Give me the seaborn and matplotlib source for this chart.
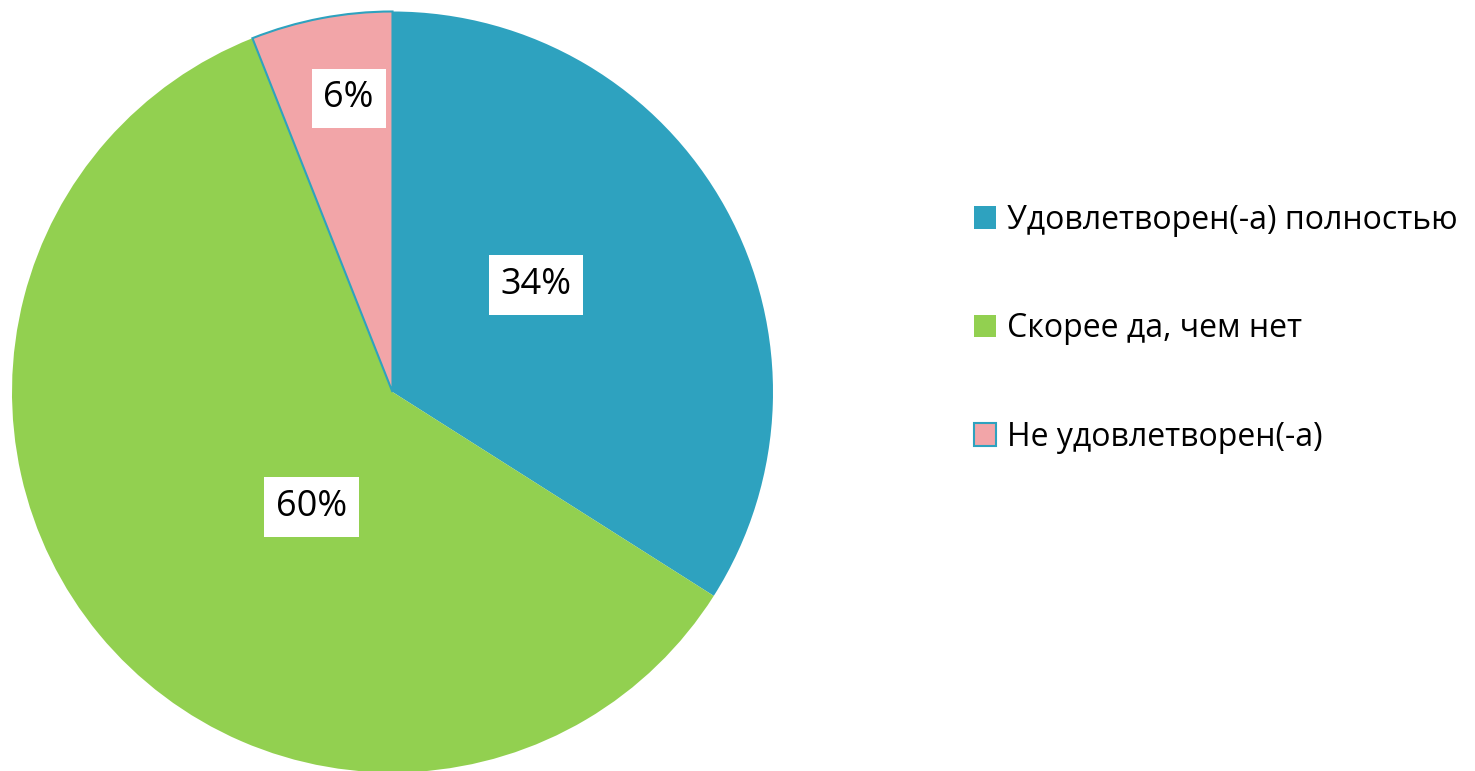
import seaborn as sns
import matplotlib.pyplot as plt
import numpy as np

categories = ["Удовлетворен(-а) полностью", "Скорее да, чем нет", "Не удовлетворен(-а)"]
shares = [34, 60, 6]
colors = ["#2EA2BF", "#92D050", "#F2A5A8"]
label_r = [0.47, 0.37, 0.78]      # radius of each percent label
label_shift = [7.8, 15.4, -2.3]   # degrees offset from slice middle

sns.set_theme(style="white")
plt.rcParams["font.family"] = ["Open Sans", "DejaVu Sans"]

W, H = 1475, 771
fig = plt.figure(figsize=(W / 100, H / 100), dpi=100)
cx, cy, r = 392.5, 771 - 392, 380.5
ax = fig.add_axes([(cx - r) / W, (cy - r) / H, 2 * r / W, 2 * r / H])

wedges, _ = ax.pie(shares, colors=colors, startangle=90, counterclock=False,
                   radius=1, wedgeprops=dict(linewidth=0))
wedges[2].set_edgecolor("#2EA2BF")
wedges[2].set_linewidth(1.5)
ax.set_xlim(-1, 1)
ax.set_ylim(-1, 1)
ax.set_aspect("equal")
ax.axis("off")

for w, val, rr, sh in zip(wedges, shares, label_r, label_shift):
    mid = np.deg2rad((w.theta1 + w.theta2) / 2 + sh)
    ax.text(rr * np.cos(mid), rr * np.sin(mid), f"{val}%", ha="center", va="center",
            fontsize=26, color="black",
            bbox=dict(boxstyle="square,pad=0.33", fc="white", ec="none"))

leg = fig.legend(wedges, categories, loc="upper left",
                 bbox_to_anchor=(961 / W, 1 - 191 / H), frameon=False,
                 fontsize=23, handlelength=0.7, handleheight=0.7,
                 handletextpad=0.35, labelspacing=2.36, borderaxespad=0,
                 labelcolor="black")

fig.savefig("out.png", dpi=100)
